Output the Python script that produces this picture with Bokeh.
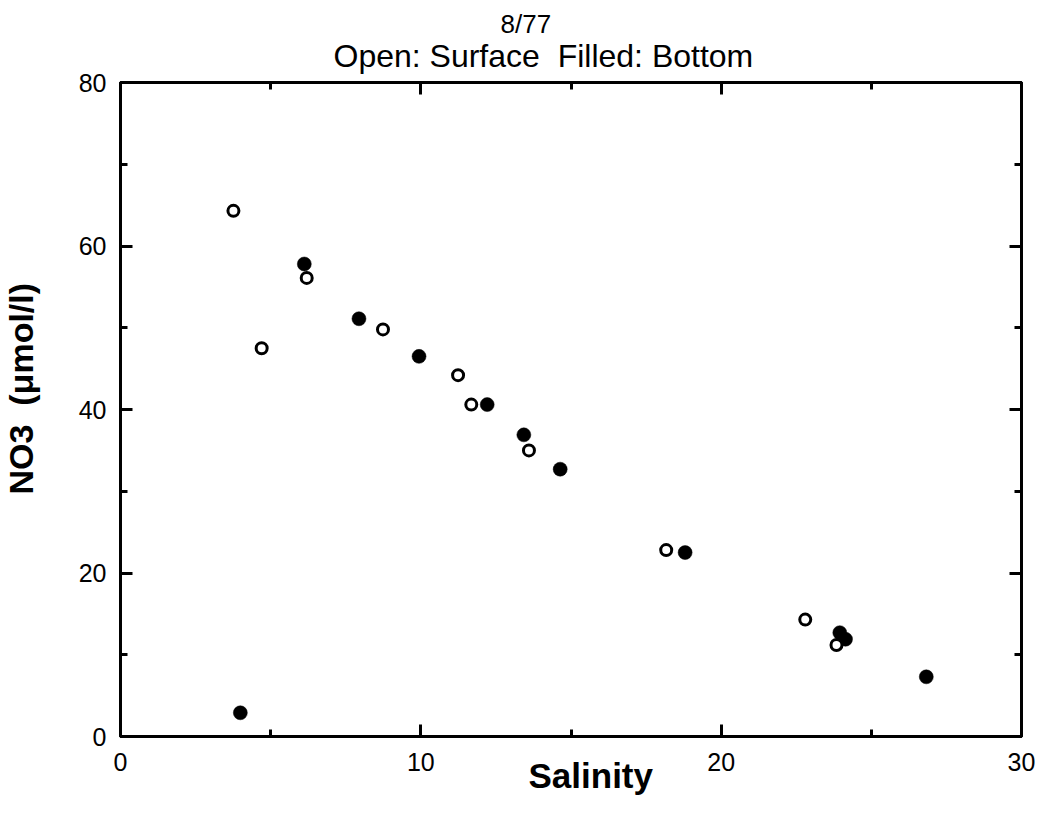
from bokeh.plotting import figure
from bokeh.models import Range1d, LinearAxis, FixedTicker, Title
from bokeh.embed import file_html
from bokeh.resources import INLINE

# Surface samples (open circles)
surface_salinity = [3.76, 6.20, 4.70, 8.74, 11.24, 11.68, 13.60, 18.17, 22.80, 23.84]
surface_no3 = [64.3, 56.1, 47.5, 49.8, 44.2, 40.6, 35.0, 22.8, 14.3, 11.2]

# Bottom samples (filled circles)
bottom_salinity = [3.99, 6.12, 7.94, 9.94, 12.21, 13.43, 14.64, 18.80, 23.95, 24.14, 26.83]
bottom_no3 = [2.9, 57.8, 51.1, 46.5, 40.6, 36.9, 32.7, 22.5, 12.7, 11.9, 7.3]

x_ticks = [0, 10, 20, 30]
x_minor = [5, 15, 25]
y_ticks = [0, 20, 40, 60, 80]
y_minor = [10, 30, 50, 70]

NB = "\u00a0"
title_line1 = "8/77"
title_line2 = "Open: Surface " + NB + "Filled: Bottom"
x_label = "Salinity"
y_label = "NO3 " + NB + "(\u03bcmol/l)"

FONT = "Liberation Sans"

p = figure(width=1035, height=806, output_backend="svg", toolbar_location=None,
           x_range=Range1d(0, 30), y_range=Range1d(0, 80),
           x_axis_type=None, y_axis_type=None,
           min_border_left=120, min_border_right=14,
           min_border_top=82, min_border_bottom=70)
p.grid.visible = False
p.outline_line_color = "black"
p.outline_line_width = 3
p.background_fill_color = "white"
p.border_fill_color = "white"


def make_axis(ticks, minor, show_labels):
    ax = LinearAxis(ticker=FixedTicker(ticks=ticks, minor_ticks=minor))
    ax.axis_line_width = 3
    ax.axis_line_color = "black"
    ax.major_tick_in = 12
    ax.major_tick_out = 0
    ax.minor_tick_in = 7
    ax.minor_tick_out = 0
    ax.major_tick_line_width = 3
    ax.minor_tick_line_width = 3
    ax.major_label_text_font = FONT
    ax.major_label_text_color = "black"
    if show_labels:
        ax.major_label_text_font_size = "25px"
    else:
        ax.major_label_overrides = {t: "" for t in ticks}
        ax.major_label_text_font_size = "0px"
        ax.major_label_standoff = 0
    return ax


xb = make_axis(x_ticks, x_minor, True)
xb.major_label_standoff = 16
xt = make_axis(x_ticks, x_minor, False)
yl = make_axis(y_ticks, y_minor, True)
yl.major_label_standoff = 14
yr = make_axis(y_ticks, y_minor, False)
p.add_layout(xb, "below")
p.add_layout(xt, "above")
p.add_layout(yl, "left")
p.add_layout(yr, "right")

# Bottom (filled) first, surface (open) on top
p.scatter(bottom_salinity, bottom_no3, marker="circle", size=14,
          fill_color="black", line_color="black", line_width=0.5)
p.scatter(surface_salinity, surface_no3, marker="circle", size=11,
          fill_color="white", line_color="black", line_width=3)

# Titles and axis names as side-panel titles
p.add_layout(Title(text=title_line2, align="left", offset=213,
                   text_font=FONT, text_font_size="32px", text_font_style="normal",
                   text_color="black", standoff=18), "above")
p.title.text = title_line1
p.title.align = "left"
p.title.offset = 380
p.title.text_font = FONT
p.title.text_font_size = "26px"
p.title.text_font_style = "normal"
p.title.text_color = "black"
p.title.standoff = -24

p.add_layout(Title(text=x_label, align="left", offset=408,
                   text_font=FONT, text_font_size="35px", text_font_style="bold",
                   text_color="black", standoff=-42), "below")
# spacer between the y tick labels and the y axis name
p.add_layout(Title(text=NB, text_font=FONT, text_font_size="20px",
                   text_color="white", standoff=17), "left")
p.add_layout(Title(text=y_label, align="left", offset=242,
                   text_font=FONT, text_font_size="34px", text_font_style="bold",
                   text_color="black", standoff=-10), "left")

open("out.html", "w").write(file_html(p, INLINE))
